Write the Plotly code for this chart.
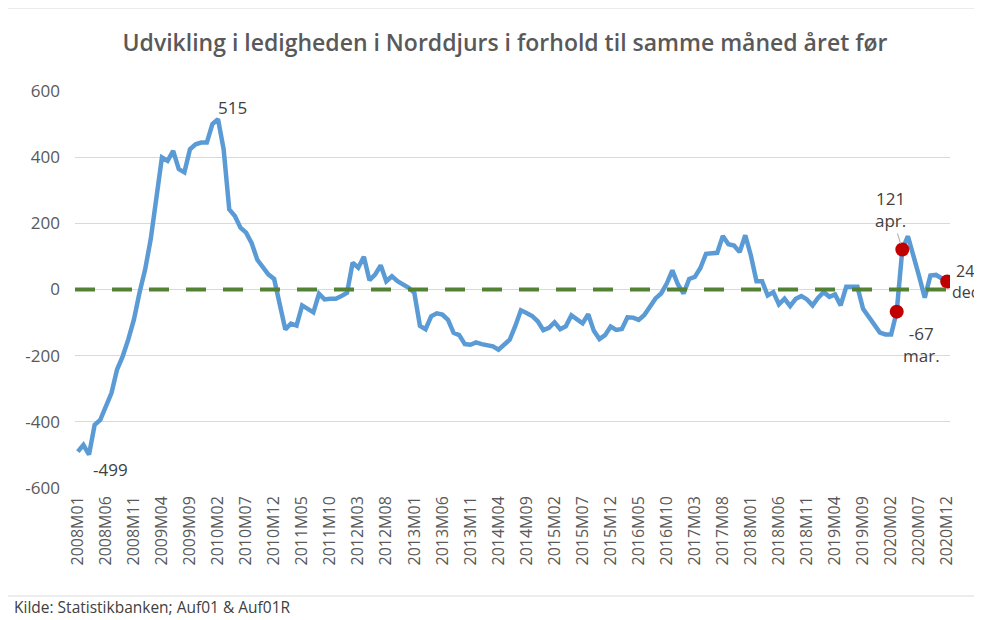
import plotly.graph_objects as go

# Categories: monthly 2008M01 .. 2020M12
years = list(range(2008, 2021))
months = [f"{y}M{m:02d}" for y in years for m in range(1, 13)]

# Change in unemployment vs. same month previous year
values = [
    -490, -470, -499, -409, -394, -354, -313, -242, -202, -151, -91, -10,   # 2008
    60, 152, 273, 399, 389, 419, 364, 354, 424, 439, 444, 444,            # 2009
    500, 515, 424, 242, 222, 187, 172, 140, 90, 70, 45, 32,                # 2010
    -45, -121, -103, -109, -48, -59, -69, -13, -30, -28, -28, -20,         # 2011
    -10, 81, 66, 99, 28, 45, 73, 25, 40, 25, 15, 5,                        # 2012
    -10, -110, -120, -81, -72, -76, -92, -131, -138, -165, -167, -160,     # 2013
    -165, -167, -172, -182, -167, -152, -110, -63, -71, -80, -96, -123,    # 2014
    -116, -99, -120, -111, -78, -90, -102, -75, -125, -150, -138, -112,    # 2015
    -122, -119, -84, -85, -92, -77, -50, -27, -12, 18, 58, 15,             # 2016
    -12, 32, 38, 65, 108, 109, 111, 162, 137, 133, 113, 164,               # 2017
    103, 25, 25, -18, -8, -45, -28, -50, -28, -20, -30, -48,               # 2018
    -25, -8, -22, -15, -48, 8, 8, 8, -58, -82, -105, -130,                 # 2019
    -136, -136, -67, 121, 161, 105, 40, -25, 42, 44, 35, 24,               # 2020
]

tick_labels = months[::5]
y_ticks = [-600, -400, -200, 0, 200, 400, 600]
y_tick_labels = [str(v) for v in y_ticks]
highlight_idx = [146, 147, 155]
highlight_names = ["mar.", "apr.", "dec"]
reference_level = [0, 0]          # horizontal reference line (value 0)
reference_span = [0, 1]           # spans full plot width on helper axis

TEXT = "#404040"
AXIS_TXT = "#595959"
FONT = "Open Sans"

# page is drawn with an 8px body offset; figure sized to fit the window
OFF = 8
PL, PR, PT, PB = 75, 950, 91, 488   # plot area in page pixels
W, H = 982 - OFF, 620 - OFF

def px_x(px):
    return (px - PL) / (PR - PL)

def px_y(py):
    return (PB - py) / (PB - PT)

fig = go.Figure()

# green dashed zero line (drawn under the blue series, over the gridlines)
fig.add_trace(go.Scatter(x=reference_span, y=reference_level, mode="lines",
                         xaxis="x2", yaxis="y",
                         line=dict(color="#548235", width=4, dash="20px,17px"),
                         hoverinfo="skip"))

fig.add_trace(go.Scatter(x=months, y=values, mode="lines",
                         line=dict(color="#5B9BD5", width=4.5), hoverinfo="skip"))

fig.add_trace(go.Scatter(x=[months[i] for i in highlight_idx],
                         y=[values[i] for i in highlight_idx],
                         mode="markers",
                         marker=dict(color="#C00000", size=14, line=dict(width=0)),
                         hoverinfo="skip"))

imax = values.index(max(values))
imin = values.index(min(values))
ann_font = dict(family=FONT, size=17, color=TEXT)
annotations = [
    dict(x=months[imax], y=values[imax], text=str(values[imax]), showarrow=False,
         xanchor="left", yanchor="bottom", xshift=-2, yshift=-2, font=ann_font),
    dict(x=months[imin], y=values[imin], text=str(values[imin]), showarrow=False,
         xanchor="left", yanchor="top", xshift=2, yshift=-1, font=ann_font),
    # mar.
    dict(x=months[highlight_idx[0]], y=values[highlight_idx[0]],
         text=f"{values[highlight_idx[0]]}<br>{highlight_names[0]}", showarrow=False,
         xanchor="left", yanchor="top", xshift=4, yshift=-8, align="center", font=ann_font),
    # apr.
    dict(x=months[highlight_idx[1]], y=values[highlight_idx[1]],
         text=f"{values[highlight_idx[1]]}<br>{highlight_names[1]}", showarrow=True,
         arrowhead=0, arrowwidth=1, arrowcolor="#A6A6A6", ax=-12, ay=-40, standoff=6,
         align="center", font=ann_font),
    # dec
    dict(x=months[highlight_idx[2]], y=values[highlight_idx[2]],
         text=f"{values[highlight_idx[2]]}<br>{highlight_names[2]}", showarrow=False,
         xanchor="left", yanchor="middle", xshift=3, yshift=0, align="center",
         font=dict(family=FONT, size=16, color=TEXT)),
    dict(xref="paper", yref="paper", x=px_x(12), y=px_y(607),
         text="Kilde: Statistikbanken; Auf01 & Auf01R", showarrow=False,
         xanchor="left", yanchor="middle", font=dict(family=FONT, size=15.5, color=TEXT)),
]

fig.add_shape(type="rect", xref="paper", yref="paper",
              x0=px_x(4), x1=px_x(979), y0=px_y(596), y1=px_y(8),
              line=dict(color="#D9D9D9", width=1), layer="below")

fig.update_layout(
    width=W, height=H,
    margin=dict(l=PL - OFF, r=982 - PR, t=PT - OFF, b=620 - PB),
    paper_bgcolor="white", plot_bgcolor="white",
    showlegend=False,
    title=dict(text="Udvikling i ledigheden i Norddjurs i forhold til samme måned året før",
               x=px_x(505), xref="paper", xanchor="center",
               y=1 - (43 - OFF) / H, yanchor="middle",
               font=dict(family=FONT, size=23, color=AXIS_TXT, weight=600)),
    annotations=annotations,
    font=dict(family=FONT, color=AXIS_TXT),
    xaxis=dict(type="category", range=[-0.5, len(months) - 0.5],
               tickmode="array", tickvals=tick_labels, ticktext=tick_labels,
               tickangle=-90, showgrid=False, zeroline=False, showline=False,
               ticks="", tickfont=dict(family=FONT, size=16, color=AXIS_TXT),
               ticklabelstandoff=4),
    xaxis2=dict(overlaying="x", range=reference_span, visible=False,
                showgrid=False, zeroline=False),
    yaxis=dict(range=[-600, 600], tickmode="array", tickvals=y_ticks,
               ticktext=y_tick_labels, showgrid=True,
               gridcolor="#D9D9D9", gridwidth=1, zeroline=False, showline=False,
               ticks="", tickfont=dict(family=FONT, size=17, color=AXIS_TXT),
               ticklabelstandoff=14),
)

fig.write_html("out.html")
